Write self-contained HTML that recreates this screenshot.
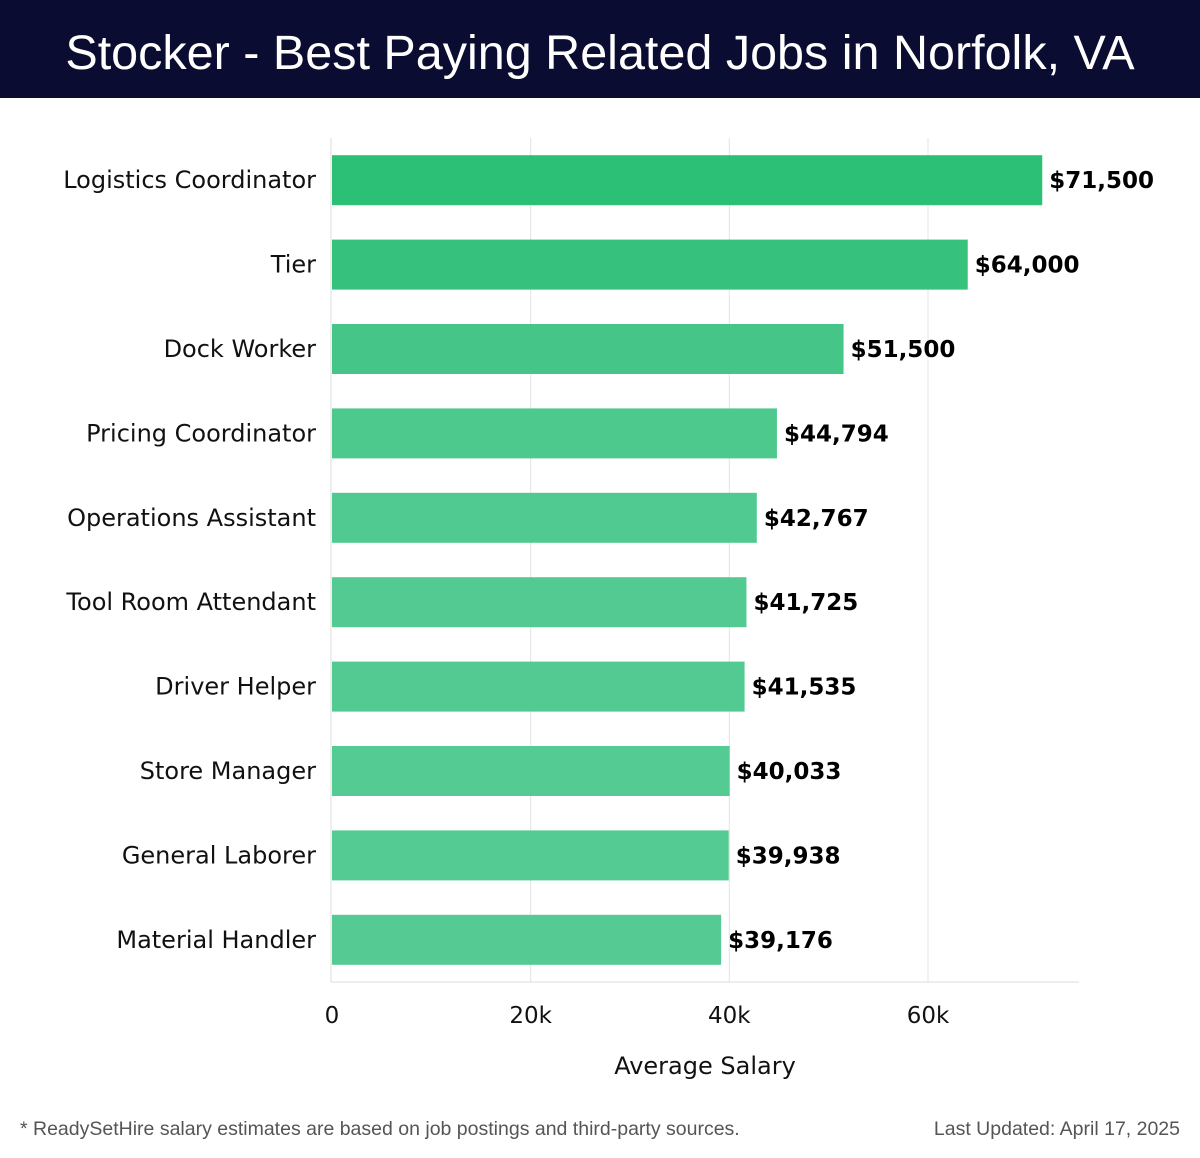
<!DOCTYPE html>
<html><head><meta charset="utf-8"><style>
body{margin:0;width:1200px;height:1158px;background:#fff;font-family:"Liberation Sans",sans-serif;overflow:hidden;position:relative}
#hdr{position:absolute;left:0;top:0;width:1200px;height:98px;background:#0b0c31;color:#fff;font-size:48.5px;text-align:center;line-height:106px}
.foot{position:absolute;top:1118px;font-size:19.5px;color:#555}
svg text{font-family:"DejaVu Sans",sans-serif}
</style></head><body>
<div id="hdr">Stocker - Best Paying Related Jobs in Norfolk, VA</div>
<svg id="chart" width="1200" height="1100" style="position:absolute;left:0;top:0"></svg>
<div class="foot" style="left:20px">* ReadySetHire salary estimates are based on job postings and third-party sources.</div>
<div class="foot" style="right:20px">Last Updated: April 17, 2025</div>
<script>
const categories=["Logistics Coordinator","Tier","Dock Worker","Pricing Coordinator","Operations Assistant","Tool Room Attendant","Driver Helper","Store Manager","General Laborer","Material Handler"];
const values=[71500,64000,51500,44794,42767,41725,41535,40033,39938,39176];
const ticks=[0,20000,40000,60000];
const tickLabels=["0","20k","40k","60k"];
const svg=document.getElementById('chart');const NS="http://www.w3.org/2000/svg";
const x0=332,xPer=(928-332)/60000,plotTop=138,plotBottom=982,band=(plotBottom-plotTop)/categories.length;
const x=v=>x0+v*xPer;
function mk(t,a,txt){const e=document.createElementNS(NS,t);for(const k in a)e.setAttribute(k,a[k]);if(txt!=null)e.textContent=txt;svg.appendChild(e);return e;}
ticks.forEach((t,i)=>{
 if(t>0){const g=mk('line',{x1:x(t),x2:x(t),y1:plotTop,y2:plotBottom,stroke:'#e4e4e4','stroke-width':1});
 
 }
 const l=mk('text',{x:x(t),y:1023,'text-anchor':'middle','font-size':23,fill:'#111'},tickLabels[i]);
 
 
});
const ax=mk('line',{x1:331,x2:331,y1:plotTop,y2:plotBottom,stroke:'#ddd'});


const bx=mk('line',{x1:331,x2:1079,y1:plotBottom,y2:plotBottom,stroke:'#ddd'});


const maxV=Math.max(...values),minV=Math.min(...values);
categories.forEach((c,i)=>{
 const cy=plotTop+band*(i+0.5),v=values[i];
 const f=(v-minV)/(maxV-minV);
 const r=Math.round(85-41*f),g=Math.round(203-12*f),b=Math.round(147-29*f);
 const bar=mk('rect',{x:x0,y:cy-25,width:x(v)-x0,height:50,fill:`rgb(${r},${g},${b})`});
 
 
 const lb=mk('text',{x:316,y:cy+8,'text-anchor':'end','font-size':24,fill:'#111'},c);
 
 
 const vl=mk('text',{x:x(v)+7,y:cy+8,'font-size':23,'font-weight':'bold',fill:'#000'},'$'+v.toLocaleString('en-US'));
 
 
});
const at=mk('text',{x:705,y:1074,'text-anchor':'middle','font-size':24,fill:'#111'},'Average Salary');


</script>
</body></html>
